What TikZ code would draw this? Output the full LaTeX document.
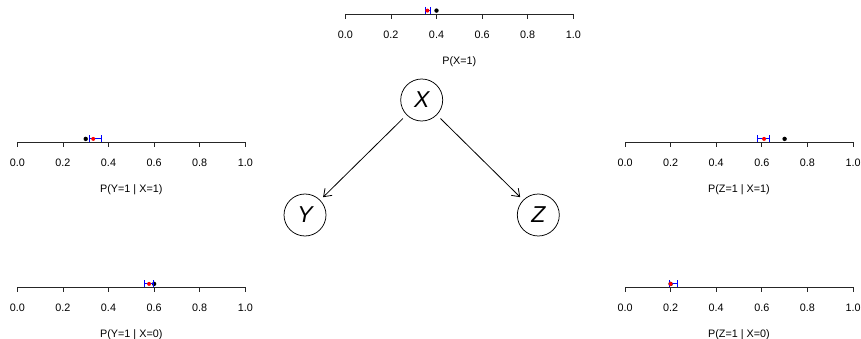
\documentclass[tikz,border=0pt]{standalone}
\usepackage{fontspec}
\setmainfont{Liberation Sans}
\usetikzlibrary{arrows.meta}

\begin{document}
\begin{tikzpicture}[x = 1pt, y = -1pt, > = {Straight Barb[length = 7pt, width = 10pt]},
	var/.style = {draw, circle, line width = 0.75pt, minimum size = 42pt, inner sep = 0pt, font = \fontsize{23}{23}\selectfont\itshape},
	axisline/.style = {line width = 0.8pt, black!85},
	ticklabel/.style = {anchor = base, inner sep = 0pt, font = \fontsize{10.8}{12}\selectfont},
	axistitle/.style = {anchor = base, inner sep = 0pt, font = \fontsize{10.8}{12}\selectfont}]

	\useasboundingbox (0, 0) rectangle (861, 339);

	% Probability axes: observed (black), estimate (red), interval (blue)

	\foreach \ax/\ay/\lab/\obs/\est/\lo/\hi/\nm in {
		345.3/14/{P(X=1)}/0.40/0.36/0.351/0.373/px,
		17.3/142.3/{P(Y=1 | X=1)}/0.30/0.333/0.316/0.368/pyx1,
		625/142.3/{P(Z=1 | X=1)}/0.70/0.61/0.58/0.634/pzx1,
		17.3/287.3/{P(Y=1 | X=0)}/0.60/0.578/0.557/0.597/pyx0,
		625/287.3/{P(Z=1 | X=0)}/0.20/0.20/0.195/0.23/pzx0}
	{
		\draw [axisline] (\ax, \ay) -- ++(228, 0);
		\foreach \t [count = \i] in {0.0, 0.2, 0.4, 0.6, 0.8, 1.0}
		{
			\draw [axisline] ({\ax + 228*\t}, \ay) -- ++(0, 5);
			\node [ticklabel] (\nm-t\i) at ({\ax + 228*\t}, \ay + 24.2) {\t};
		}
		\node [axistitle] (\nm-title) at (\ax + 114, \ay + 50.5) {\lab};

		\fill [black] ({\ax + 228*\obs}, \ay - 3.4) circle [radius = 2.2];
		\draw [blue, line width = 0.7pt] ({\ax + 228*\lo}, \ay - 7) -- ++(0, 7) ++(0, -3.5) -- ({\ax + 228*\hi}, \ay - 3.5) ++(0, -3.5) -- ++(0, 7);
		\fill [red] ({\ax + 228*\est}, \ay - 3.4) circle [radius = 2];
	}

	% Graph

	\node [var] (X) at (421.7, 100) {X};
	\node [var] (Y) at (305, 215) {Y};
	\node [var] (Z) at (538.3, 215) {Z};

	\draw [->, line width = 0.8pt, shorten < = 5pt, shorten > = 4pt] (X) -- (Y);
	\draw [->, line width = 0.8pt, shorten < = 5pt, shorten > = 4pt] (X) -- (Z);

\end{tikzpicture}
\end{document}
